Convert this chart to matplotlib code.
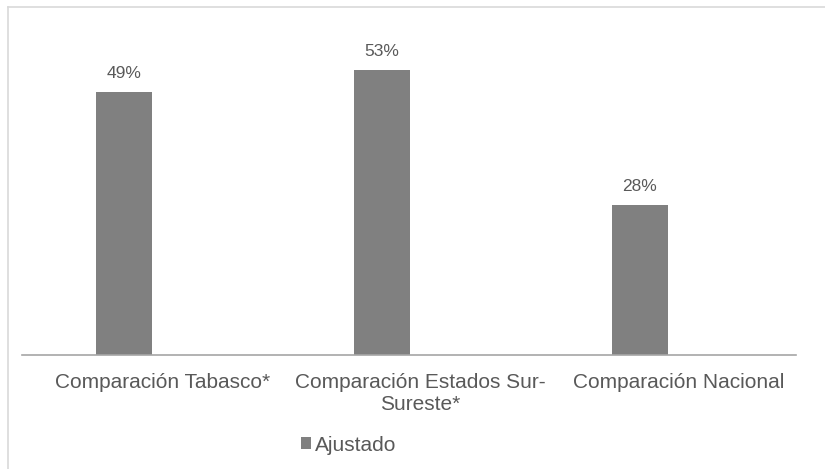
import matplotlib
matplotlib.use("Agg")
import matplotlib.pyplot as plt
from matplotlib.patches import Patch
from matplotlib.lines import Line2D
import numpy as np

categories = ["Comparación Tabasco*", "Comparación Estados Sur-\nSureste*", "Comparación Nacional"]
values = [49, 53, 28]
value_labels = ["49%", "53%", "28%"]
series_name = "Ajustado"

plt.rcParams['font.family'] = ['Liberation Sans', 'DejaVu Sans']

W, H = 825, 469
fig = plt.figure(figsize=(W / 100, H / 100), dpi=100)
fig.patch.set_facecolor("white")

# light border (left and top)
fig.add_artist(Line2D([7.5 / W, 7.5 / W], [0, 1 - 7.5 / H], color="#D9D9D9", lw=1.2, transform=fig.transFigure))
fig.add_artist(Line2D([7.5 / W, 1], [1 - 7.5 / H, 1 - 7.5 / H], color="#D9D9D9", lw=1.2, transform=fig.transFigure))

left, right = 22, 796
base_y = 355
ppu = 5.37
ymax = 60
ax = fig.add_axes([left / W, 1 - base_y / H, (right - left) / W, ymax * ppu / H])
x = np.arange(len(categories))
bar_offset = -0.105
bars = ax.bar(x + bar_offset, values, width=0.22, color="#808080", zorder=2)
ax.set_xlim(-0.5, len(categories) - 0.5)
ax.set_ylim(0, ymax)
for s in ["top", "right", "left"]:
    ax.spines[s].set_visible(False)
ax.spines["bottom"].set_color("#A6A6A6")
ax.spines["bottom"].set_linewidth(1.2)
ax.set_yticks([])
ax.set_xticks(x + 0.045)
ax.set_xticklabels(categories, fontsize=15, color="#595959", linespacing=1.2)
ax.tick_params(axis="x", length=0, pad=13)
for xi, v, lab in zip(x + bar_offset, values, value_labels):
    ax.annotate(lab, (xi, v), xytext=(0, 8), textcoords="offset points",
                ha="center", va="bottom", fontsize=12.5, color="#595959")

handle = Patch(facecolor="#808080", edgecolor="none")
fig.legend([handle], [series_name], loc="center", bbox_to_anchor=(349 / W, 1 - 445 / H),
           frameon=False, fontsize=15, labelcolor="#595959", handlelength=0.48,
           handleheight=0.48, handletextpad=0.2)

fig.savefig("out.png", dpi=100, facecolor="white")
